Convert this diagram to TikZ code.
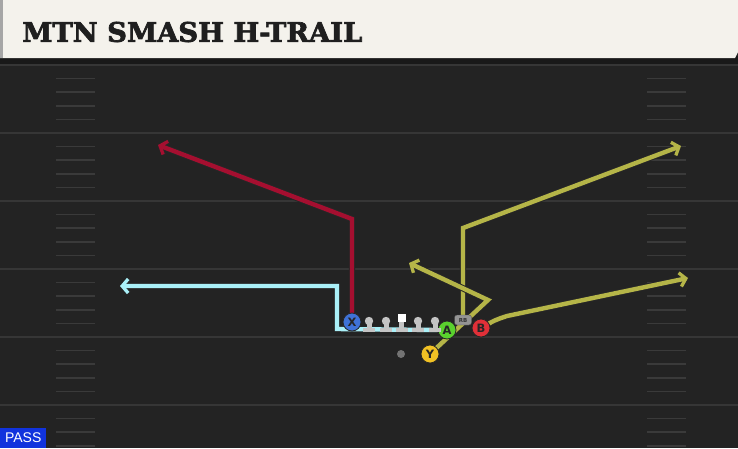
\documentclass[tikz,border=0pt]{standalone}
\usepackage{fontspec}
\setmainfont{DejaVu Serif}
\newfontfamily\titlefont[FakeBold=2.5]{DejaVu Serif}
\newfontfamily\labelfont{DejaVu Sans}
\newfontfamily\passfont{Liberation Sans}
\usetikzlibrary{arrows.meta}
\definecolor{fieldbg}{HTML}{232323}
\definecolor{yardline}{HTML}{363636}
\definecolor{hashcol}{HTML}{3a3a3a}
\definecolor{headbg}{HTML}{F4F2EC}
\definecolor{routered}{HTML}{A50F30}
\definecolor{routecyan}{HTML}{AAF0F8}
\definecolor{routeyel}{HTML}{B5B548}
\definecolor{pblue}{HTML}{3F72D6}
\definecolor{pgreen}{HTML}{5AD12E}
\definecolor{pred}{HTML}{E03038}
\definecolor{pyel}{HTML}{F2C224}
\definecolor{olgrey}{HTML}{C4C4C4}
\definecolor{passblue}{HTML}{1133DD}
\pgfdeclarelayer{back}
\pgfdeclarelayer{routes}
\pgfsetlayers{back,routes,main}
\tikzset{
  route/.style={line width=4.4pt, line join=miter, line cap=butt,
    -{Straight Barb[length=6pt,width=14pt,line width=0pt 0.75]},
    preaction={draw=black!85, line width=6.4pt}},
  player/.style={circle, draw=black!85, line width=0.8pt, minimum size=18pt, inner sep=0pt,
    font=\labelfont\bfseries\fontsize{11.5}{11.5}\selectfont, text=black!85},
  lineman/.pic={
    \fill[olgrey] (-6,6.5) rectangle (6,11);
    \fill[olgrey] (-2.5,1) rectangle (2.5,7);
    \fill[olgrey] (0,0) circle (4.2);
  },
  yard/.style={draw=yardline, line width=2pt},
  hash/.style={draw=hashcol, line width=1.6pt},
}
\begin{document}
\begin{tikzpicture}[x=1pt,y=-1pt]
\useasboundingbox (0,0) rectangle (738,448);
\begin{pgfonlayer}{back}
  \fill[fieldbg] (0,0) rectangle (738,448);
  % header
  \fill[black!90] (0,56) rectangle (738,64);
  \fill[headbg] (0,0) -- (738,0) -- (738,52) -- (735,58) -- (0,58) -- cycle;
  \fill[black!35] (0,0) rectangle (2.5,58);
  % yard lines
  \draw[yard] (0,65) -- (738,65);
  \foreach \yy in {133,201,269,337,405} {\draw[yard] (0,\yy) -- (738,\yy);}
  % hash marks
  \foreach \yy in {65,133,201,269,337,405} {
    \foreach \k in {1,2,3,4} {
      \draw[hash] (56,\yy+13.6*\k) -- (95,\yy+13.6*\k);
      \draw[hash] (647,\yy+13.6*\k) -- (686,\yy+13.6*\k);
    }
  }
\end{pgfonlayer}

\node[anchor=west, inner sep=0pt, text=black!88] (title) at (22,32)
  {\resizebox{340pt}{20pt}{\titlefont\bfseries MTN SMASH H-TRAIL}};

% players
\node[player, fill=pblue] (X) at (352,322) {X};
\node[player, fill=pgreen] (A) at (447,330) {A};
\node[player, fill=pred] (B) at (481,328) {B};
\node[player, fill=pyel] (Y) at (430,354) {Y};
\node[draw=black!70, fill=black!42, rounded corners=2.5pt, minimum width=17pt, minimum height=10pt,
  inner sep=0pt, font=\labelfont\bfseries\fontsize{5.5}{5.5}\selectfont, text=black!80] (RB) at (463,320) {RB};
\node[circle, fill=black!55, minimum size=8pt, inner sep=0pt] (QB) at (401,354) {};

% offensive line
\node[inner sep=0pt, minimum size=1pt] (LT) at (369,321) {};
\node[inner sep=0pt, minimum size=1pt] (LG) at (386,321) {};
\node[inner sep=0pt, minimum size=1pt] (C) at (401.5,321) {};
\node[inner sep=0pt, minimum size=1pt] (RG) at (418,321) {};
\node[inner sep=0pt, minimum size=1pt] (RT) at (435,321) {};
\pic at (LT) {lineman};
\pic at (LG) {lineman};
\pic at (RG) {lineman};
\pic at (RT) {lineman};
\fill[olgrey] (395.5,327.5) rectangle (407.5,332);
\fill[olgrey] (399,320) rectangle (404,328);
\fill[white] (397.5,314) rectangle (405.5,322);

% route bends
\coordinate (xbend) at (352,219);
\coordinate (xend) at (158,145);
\coordinate (abend1) at (337,329);
\coordinate (abend2) at (337,286);
\coordinate (aend) at (120,286);
\coordinate (rbbend) at (463,228);
\coordinate (rbend) at (681,146);
\coordinate (ybend) at (488,300);
\coordinate (yend) at (409,263);
\coordinate (bbend) at (507,316);
\coordinate (bend) at (688,278);

\begin{pgfonlayer}{routes}
  \draw[route, routecyan] (A.west) -- (abend1) -- (abend2) -- (aend);
  \draw[route, routered] (X.center) -- (xbend) -- (xend);
  \draw[route, routeyel] (RB.center) -- (rbbend) -- (rbend);
  \draw[route, routeyel] (Y.center) -- (ybend) -- (yend);
  \draw[route, routeyel] (B.center) .. controls (495,320) .. (bbend) -- (bend);
\end{pgfonlayer}

% PASS label
\node[fill=passblue, anchor=south west, minimum width=46pt, minimum height=20pt, inner sep=0pt,
  text=white, font=\passfont\fontsize{14}{14}\selectfont] (pass) at (0,448) {PASS};
\end{tikzpicture}
\end{document}
